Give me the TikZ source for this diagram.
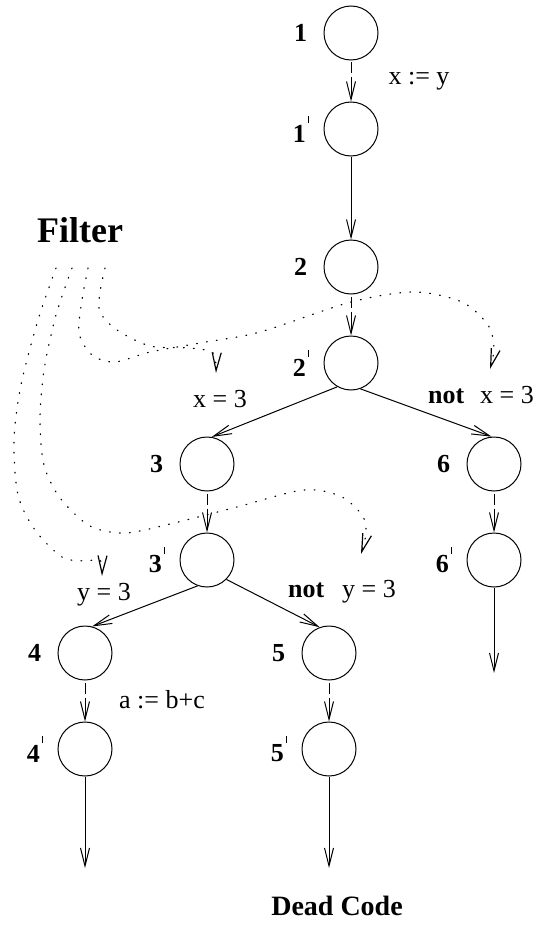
\documentclass[tikz,border=0pt]{standalone}
\usepackage{fontspec}
\setmainfont{Liberation Serif}
\usetikzlibrary{positioning,arrows.meta}

\newcommand{\primetick}{\hspace{1.2pt}\raisebox{9.5pt}{\rule{0.45pt}{3.6pt}}}

\begin{document}
\begin{tikzpicture}[x=0.5pt,y=-0.5pt]
    \tikzset{Vertex/.style={%
        shape=circle,%
        draw=black,%
        line width=0.5pt,%
        minimum size=27pt,%
        inner sep=0pt,%
        node distance=48pt,%
    }}
    \tikzset{Num/.style={font=\fontsize{13}{15}\selectfont\bfseries, inner sep=0pt}}
    \tikzset{Cond/.style={font=\fontsize{13}{15}\selectfont, inner sep=0pt, anchor=base}}
    \tikzset{Flow/.style={line width=0.5pt, -{Straight Barb[length=9pt,width=4.5pt]}}}
    \tikzset{Hop/.style={Flow, shorten <=1pt, dash pattern=on 5.5pt off 2pt on 40pt off 10pt}}
    \tikzset{Filt/.style={Flow, line width=0.6pt, line cap=round, dash pattern=on 0.4pt off 4.6pt}}

    \useasboundingbox (0,0) rectangle (540,931);

    \node[Vertex] (n1) at (351,33) {};
    \node[Vertex, below of=n1] (n1p) {};
    \node[Vertex] (n2) at (351,267) {};
    \node[Vertex, below of=n2] (n2p) {};
    \node[Vertex] (n3) at (207,464) {};
    \node[Vertex, below of=n3] (n3p) {};
    \node[Vertex] (n6) at (494,464) {};
    \node[Vertex, below of=n6] (n6p) {};
    \node[Vertex] (n4) at (85,653) {};
    \node[Vertex, below of=n4] (n4p) {};
    \node[Vertex] (n5) at (329,653) {};
    \node[Vertex, below of=n5] (n5p) {};

    \node[Num, left=8pt of n1] (l1) {1};
    \node[Num, left=7pt of n1p] (l1p) {1\primetick};
    \node[Num, left=8pt of n2] (l2) {2};
    \node[Num, left=7pt of n2p] (l2p) {2\primetick};
    \node[Num, left=8pt of n3] (l3) {3};
    \node[Num, left=7pt of n3p] (l3p) {3\primetick};
    \node[Num, left=8pt of n6] (l6) {6};
    \node[Num, left=7pt of n6p] (l6p) {6\primetick};
    \node[Num, left=8pt of n4] (l4) {4};
    \node[Num, left=7pt of n4p] (l4p) {4\primetick};
    \node[Num, left=8pt of n5] (l5) {5};
    \node[Num, left=7pt of n5p] (l5p) {5\primetick};

    % statements and conditions
    \node[Cond] (c1) at (419,85) {x := y};
    \node[Cond] (c2) at (220,407) {x = 3};
    \node[Cond] (c6) at (481,403) {\textbf{not}\hspace{8pt}x = 3};
    \node[Cond] (c4) at (104,600) {y = 3};
    \node[Cond] (c5) at (342,597) {\textbf{not}\hspace{9pt}y = 3};
    \node[Cond] (c7) at (162,708) {a := b+c};

    \node[font=\fontsize{18}{20}\selectfont\bfseries, anchor=base] (filter) at (80,242) {Filter};
    \node[font=\fontsize{14}{16}\selectfont\bfseries, anchor=base] (dead) at (337,915) {Dead Code};

    \coordinate (e4) at (85,868);
    \coordinate (e5) at (329,868);
    \coordinate (e6) at (494,673);

    \path (n1) edge[Hop] (n1p);
    \path (n1p) edge[Flow] (n2);
    \path (n2) edge[Hop] (n2p);
    \path (n2p.240) edge[Flow] (n3.80);
    \path (n2p.-70) edge[Flow] (n6.95);
    \path (n3) edge[Hop] (n3p);
    \path (n6) edge[Hop] (n6p);
    \path (n3p.250) edge[Flow] (n4.75);
    \path (n3p.-45) edge[Flow] (n5.110);
    \path (n4) edge[Hop] (n4p);
    \path (n5) edge[Hop] (n5p);
    \path (n4p) edge[Flow] (e4);
    \path (n5p) edge[Flow] (e5);
    \path (n6p) edge[Flow] (e6);

    % filter paths
    \coordinate (fa) at (105,268);
    \coordinate (fb) at (88,268);
    \coordinate (fc) at (72,268);
    \coordinate (fd) at (56,268);
    \coordinate (ta) at (216,373);
    \coordinate (tb) at (490,369);
    \coordinate (tc) at (361,554);
    \coordinate (td) at (102,576);

    \draw[Filt] plot[smooth] coordinates {(fa) (100,292) (100,312) (117,330) (150,346) (190,348) (213,353) (ta)};
    \draw[Filt] plot[smooth] coordinates {(fb) (82,300) (79,333) (92,355) (115,362) (150,352) (200,343) (260,332) (351,302) (414,292) (462,302) (488,325) (494,348) (tb)};
    \draw[Filt] plot[smooth] coordinates {(fc) (56,315) (44,370) (40,420) (44,465) (60,498) (90,526) (125,533) (170,524) (237,507) (303,490) (340,496) (362,515) (366,533) (tc)};
    \draw[Filt] plot[smooth] coordinates {(fd) (38,320) (21,385) (14,440) (18,495) (35,530) (62,557) (85,561) (100,560) (td)};
\end{tikzpicture}
\end{document}
